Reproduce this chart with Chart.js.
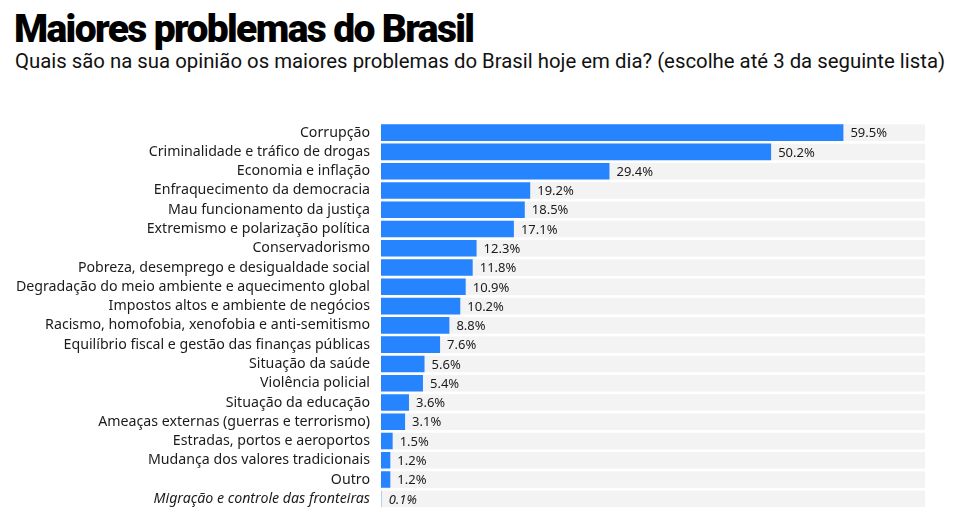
<!DOCTYPE html>
<html><head><meta charset="utf-8">
<script src="https://cdn.jsdelivr.net/npm/chart.js@4.4.1/dist/chart.umd.min.js"></script>
<style>
html,body{margin:0;padding:0;background:#fff;width:966px;height:513px;overflow:hidden}
#t{position:absolute;left:14px;top:6px;font-family:Roboto,sans-serif;font-weight:900;font-size:39px;letter-spacing:-1.65px;color:#000;white-space:nowrap}
#s{position:absolute;left:15px;top:49px;font-family:Roboto,sans-serif;font-size:20.35px;color:#111;white-space:nowrap}
#c{position:absolute;left:0;top:0}
</style></head><body>
<div id="t">Maiores problemas do Brasil</div>
<div id="s">Quais são na sua opinião os maiores problemas do Brasil hoje em dia? (escolhe até 3 da seguinte lista)</div>
<canvas id="c" width="966" height="528"></canvas>
<script>
const categories = [
 "Corrupção","Criminalidade e tráfico de drogas","Economia e inflação","Enfraquecimento da democracia",
 "Mau funcionamento da justiça","Extremismo e polarização política","Conservadorismo",
 "Pobreza, desemprego e desigualdade social","Degradação do meio ambiente e aquecimento global",
 "Impostos altos e ambiente de negócios","Racismo, homofobia, xenofobia e anti-semitismo",
 "Equilíbrio fiscal e gestão das finanças públicas","Situação da saúde","Violência policial",
 "Situação da educação","Ameaças externas (guerras e terrorismo)","Estradas, portos e aeroportos",
 "Mudança dos valores tradicionais","Outro","Migração e controle das fronteiras"];
const values = [59.5,50.2,29.4,19.2,18.5,17.1,12.3,11.8,10.9,10.2,8.8,7.6,5.6,5.4,3.6,3.1,1.5,1.2,1.2,0.1];
const valueLabels = values.map(v => v.toFixed(1) + "%");
const axisMax = 70;
const italicIndex = categories.length - 1;

const trackPlugin = {
  id:'track',
  beforeDatasetsDraw(chart){
    const {ctx, scales:{x}} = chart;
    const meta = chart.getDatasetMeta(0);
    ctx.save();
    ctx.fillStyle = '#f3f3f3';
    meta.data.forEach(b => {
      const h = b.height;
      ctx.fillRect(x.getPixelForValue(0), b.y - h/2, x.getPixelForValue(axisMax) - x.getPixelForValue(0), h);
    });
    ctx.restore();
  }
};
const labelPlugin = {
  id:'vlabels',
  afterDatasetsDraw(chart){
    const {ctx} = chart;
    const meta = chart.getDatasetMeta(0);
    ctx.save();
    ctx.fillStyle = '#1b1b1b';
    ctx.textBaseline = 'middle';
    meta.data.forEach((b,i) => {
      ctx.font = (i===italicIndex?'italic ':'') + '13px "Noto Sans", sans-serif';
      ctx.fillText(valueLabels[i], b.x + 7, b.y + 1);
    });
    ctx.restore();
  }
};

new Chart(document.getElementById('c'), {
  type:'bar',
  data:{labels:categories, datasets:[{
    data:values,
    backgroundColor: values.map((v,i)=> i===italicIndex ? '#9ec8f5' : '#2684ff'),
    borderWidth:0,
    barPercentage:1,
    categoryPercentage:0.86
  }]},
  options:{
    indexAxis:'y',
    responsive:false, maintainAspectRatio:false, animation:false, devicePixelRatio:1,
    layout:{padding:{top:123,bottom:0,right:41,left:0}},
    plugins:{legend:{display:false},tooltip:{enabled:false},title:{display:false}},
    scales:{
      x:{display:false,min:0,max:axisMax},
      y:{
        grid:{display:false,drawTicks:false},border:{display:false},
        afterFit(s){ s.width = 381; },
        ticks:{color:'#1b1b1b',padding:11,autoSkip:false,
          font:(c)=>({family:'"Noto Sans", sans-serif',size:14.2,style:c.index===italicIndex?'italic':'normal'})}
      }
    }
  },
  plugins:[trackPlugin,labelPlugin]
});
</script>
</body></html>
